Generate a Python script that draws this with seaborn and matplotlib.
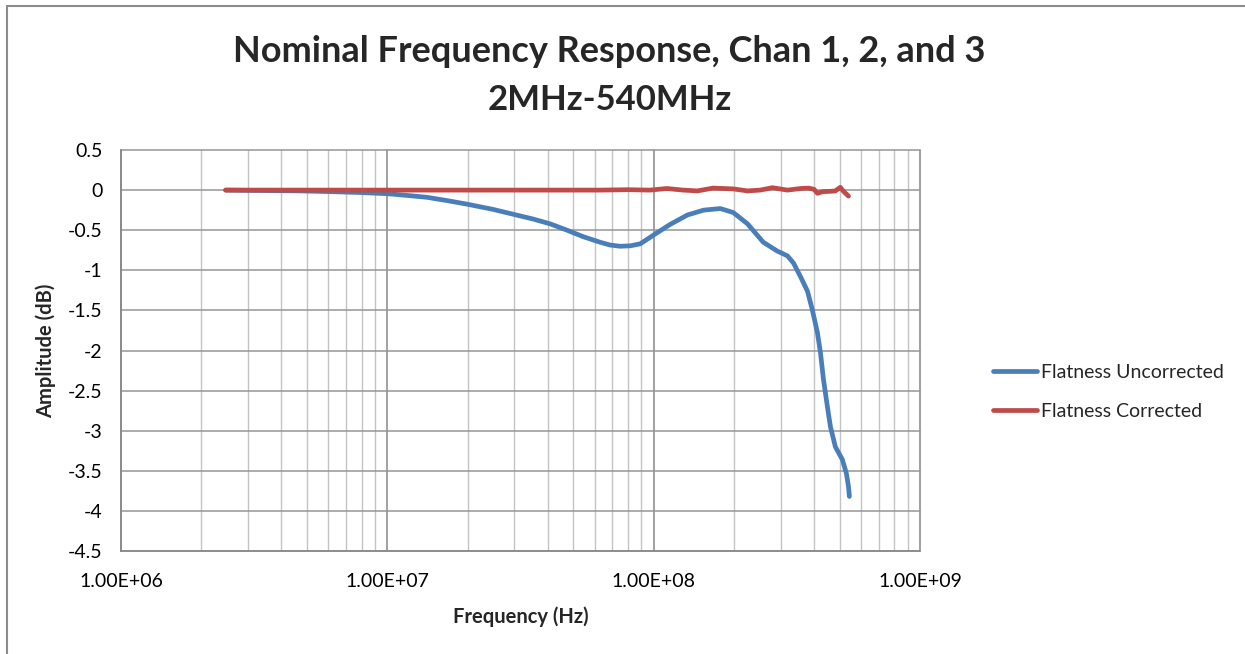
import matplotlib
matplotlib.use("Agg")
import matplotlib.pyplot as plt
import matplotlib.ticker as mticker
from matplotlib.patches import Rectangle
import seaborn as sns
import pandas as pd

# ---- data ----
freq_uncorr = [2.47e6, 3.32e6, 4.69e6, 6.24e6, 7.88e6, 1.0e7, 1.22e7, 1.41e7, 1.67e7, 1.99e7,
               2.49e7, 2.96e7, 3.52e7, 4.08e7, 4.73e7, 5.43e7, 6.29e7, 6.86e7, 7.48e7, 8.16e7,
               8.90e7, 1.0e8, 1.15e8, 1.34e8, 1.54e8, 1.78e8, 1.99e8, 2.25e8, 2.58e8, 2.91e8,
               3.18e8, 3.35e8, 3.56e8, 3.78e8, 3.94e8, 4.12e8, 4.23e8, 4.34e8, 4.49e8, 4.61e8,
               4.81e8, 5.11e8, 5.29e8, 5.39e8, 5.43e8]
amp_uncorr = [0.00, -0.005, -0.01, -0.02, -0.03, -0.045, -0.07, -0.09, -0.13, -0.175,
              -0.24, -0.30, -0.36, -0.42, -0.50, -0.58, -0.65, -0.685, -0.70, -0.695,
              -0.67, -0.56, -0.43, -0.31, -0.25, -0.23, -0.28, -0.42, -0.65, -0.76,
              -0.82, -0.91, -1.08, -1.26, -1.49, -1.78, -2.03, -2.36, -2.70, -2.95,
              -3.20, -3.36, -3.53, -3.70, -3.82]

freq_corr = [2.47e6, 5.0e6, 1.0e7, 2.0e7, 4.0e7, 6.29e7, 8.0e7, 9.7e7, 1.12e8, 1.29e8,
             1.46e8, 1.67e8, 1.99e8, 2.25e8, 2.51e8, 2.79e8, 3.18e8, 3.56e8, 3.81e8, 4.0e8,
             4.12e8, 4.30e8, 4.61e8, 4.81e8, 5.02e8, 5.16e8, 5.39e8]
amp_corr = [0.0, 0.0, 0.0, 0.0, 0.0, 0.0, 0.005, 0.0, 0.02, 0.0,
            -0.01, 0.025, 0.015, -0.01, 0.0, 0.03, 0.0, 0.02, 0.025, 0.01,
            -0.04, -0.02, -0.015, -0.01, 0.035, -0.015, -0.075]

series_names = ["Flatness Uncorrected", "Flatness Corrected"]
x_ticks = [1e6, 1e7, 1e8, 1e9]
x_tick_labels = ["1.00E+06", "1.00E+07", "1.00E+08", "1.00E+09"]
y_ticks = [0.5, 0, -0.5, -1, -1.5, -2, -2.5, -3, -3.5, -4, -4.5]
y_tick_labels = ["0.5", "0", "-0.5", "-1", "-1.5", "-2", "-2.5", "-3", "-3.5", "-4", "-4.5"]

df = pd.concat([
    pd.DataFrame({"Frequency": freq_uncorr, "Amplitude": amp_uncorr, "Series": series_names[0]}),
    pd.DataFrame({"Frequency": freq_corr, "Amplitude": amp_corr, "Series": series_names[1]}),
])

sns.set_style("white")
FONT = ["Lato", "DejaVu Sans"]
plt.rcParams["font.family"] = FONT

W, H = 1245, 654
fig = plt.figure(figsize=(W / 100, H / 100), dpi=100)
ax = fig.add_axes([121 / W, 1 - 551 / H, (920 - 121) / W, (551 - 150) / H])

palette = {series_names[0]: "#4A7EBB", series_names[1]: "#BE4B48"}
sns.lineplot(data=df, x="Frequency", y="Amplitude", hue="Series", palette=palette,
             hue_order=series_names, linewidth=3.4, ax=ax, sort=True, estimator=None,
             solid_capstyle="round", solid_joinstyle="round")

ax.set_xscale("log")
ax.set_xlim(1e6, 1e9)
ax.set_ylim(-4.5, 0.5)
ax.set_xticks(x_ticks)
ax.set_xticklabels(x_tick_labels)
ax.xaxis.set_minor_locator(mticker.LogLocator(base=10, subs=range(2, 10)))
ax.xaxis.set_minor_formatter(mticker.NullFormatter())
ax.set_yticks(y_ticks)
ax.set_yticklabels(y_tick_labels)

ax.grid(True, which="major", axis="x", color="#868686", linewidth=1.1)
ax.grid(True, which="minor", axis="x", color="#C4C4C4", linewidth=1.0)
ax.grid(True, which="major", axis="y", color="#969696", linewidth=1.1)
ax.set_axisbelow(True)
for gl in ax.get_xgridlines() + ax.get_ygridlines():
    gl.set_clip_on(False)

for s in ["top", "right"]:
    ax.spines[s].set_visible(False)
for s in ["left", "bottom"]:
    ax.spines[s].set_color("#868686")
    ax.spines[s].set_linewidth(1.1)

ax.tick_params(axis="x", which="both", length=0, pad=16, labelsize=14, labelcolor="black")
ax.tick_params(axis="y", which="major", length=4.5, width=1.1, color="#868686",
               direction="out", pad=9, labelsize=14, labelcolor="black")

ax.set_xlabel("Frequency (Hz)", fontsize=14.5, fontweight="bold", labelpad=12)
ax.set_ylabel("Amplitude (dB)", fontsize=14.5, fontweight="bold", labelpad=8)

leg = ax.legend(loc="center left", bbox_to_anchor=(993 / W, 1 - 392 / H),
                bbox_transform=fig.transFigure, frameon=False, fontsize=14,
                handlelength=2.25, handletextpad=0.2, labelspacing=1.15,
                borderpad=0, borderaxespad=0)
for line in leg.get_lines():
    line.set_linewidth(3.4)

fig.text(609.5 / W, 1 - 51 / H, "Nominal Frequency Response, Chan 1, 2, and 3",
         ha="center", va="center", fontsize=26, fontweight="bold")
fig.text(609.5 / W, 1 - 100 / H, "2MHz-540MHz",
         ha="center", va="center", fontsize=25, fontweight="bold")

fig.patches.append(Rectangle((7 / W, -0.1), 1.2, 1 - 6 / H + 0.1, transform=fig.transFigure,
                             fill=False, edgecolor="#8C8C8C", linewidth=1.5))

fig.savefig("out.png", dpi=100)
